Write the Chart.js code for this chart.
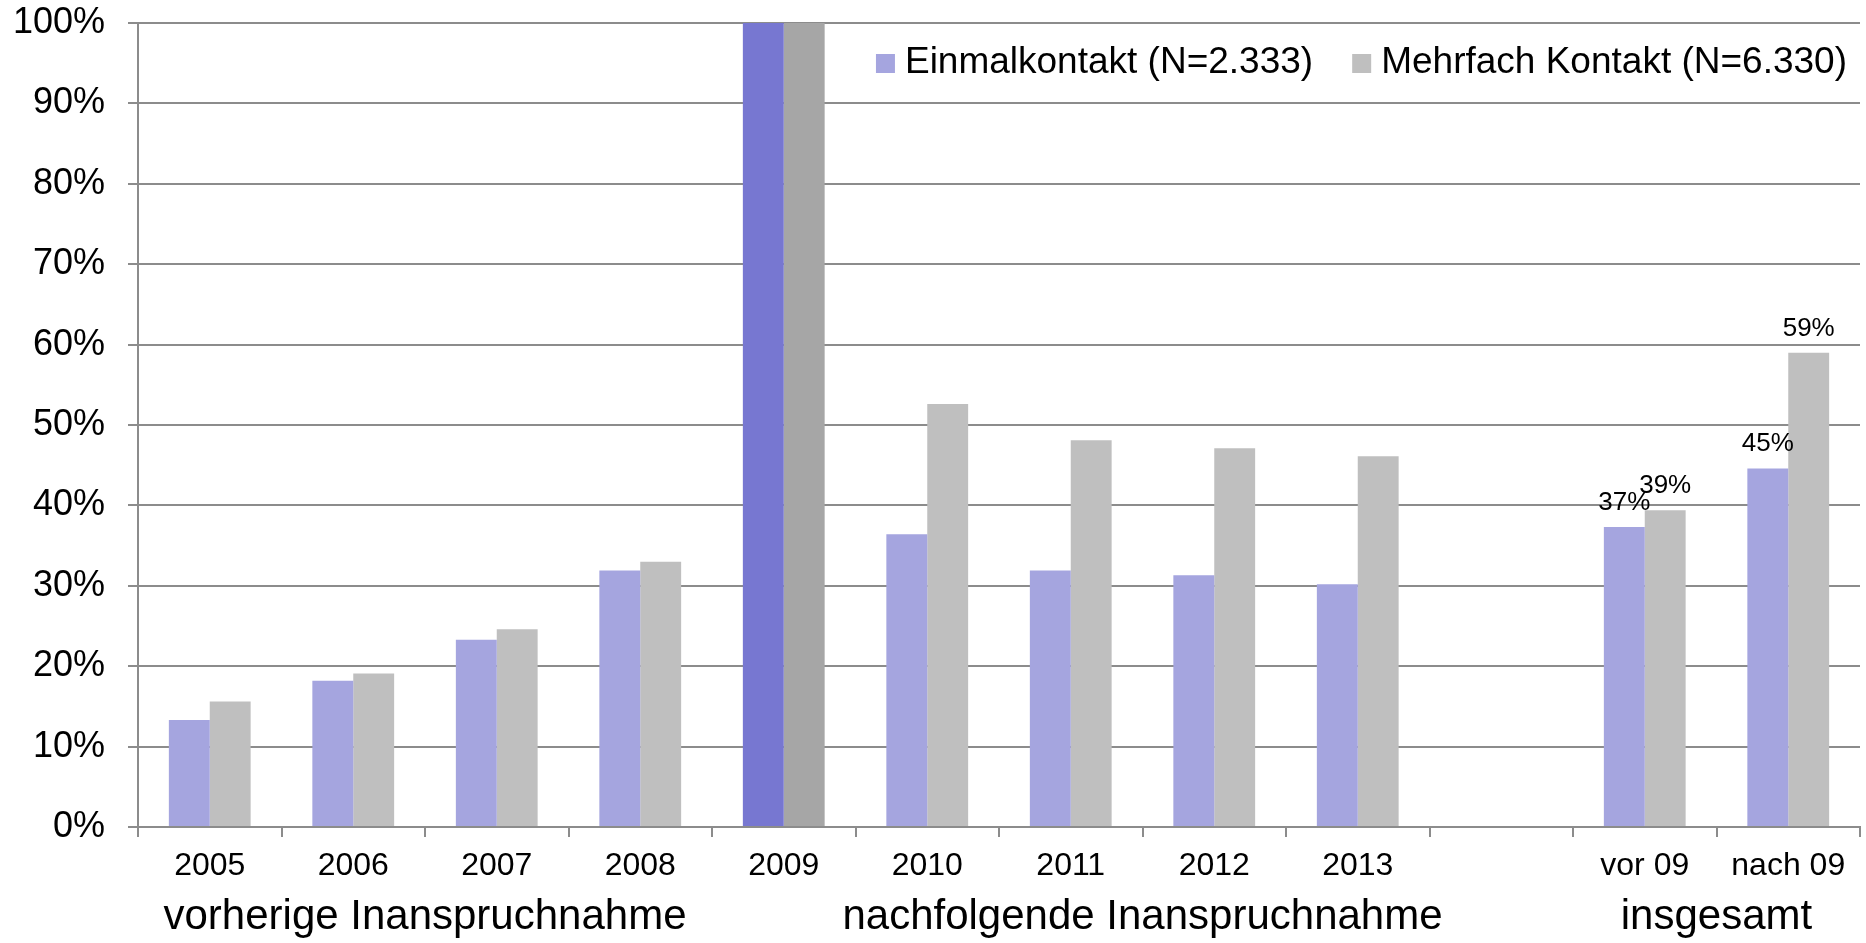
<!DOCTYPE html>
<html lang="de">
<head>
    <meta charset="UTF-8">
    <title>Inanspruchnahme vor und nach 2009</title>
    <script src="https://cdn.jsdelivr.net/npm/chart.js"></script>
    <style>
        html, body {
            margin: 0;
            padding: 0;
            background: #ffffff;
        }
        #wrap {
            width: 1866px;
            height: 943px;
            position: relative;
        }
    </style>
</head>
<body>
    <div id="wrap"><canvas id="chart"></canvas></div>

    <script>
        // data (percent)
        const categories = ['2005', '2006', '2007', '2008', '2009', '2010', '2011', '2012', '2013', '', 'vor 09', 'nach 09'];
        const einmalValues = [13.3, 18.2, 23.3, 31.9, 100, 36.4, 31.9, 31.3, 30.2, null, 37.3, 44.6];
        const mehrfachValues = [15.6, 19.1, 24.6, 33.0, 100, 52.6, 48.1, 47.1, 46.1, null, 39.4, 59.0];
        const seriesNames = ['Einmalkontakt (N=2.333)', 'Mehrfach Kontakt (N=6.330)'];
        const yTicks = [0, 10, 20, 30, 40, 50, 60, 70, 80, 90, 100];
        const groupLabels = ['vorherige Inanspruchnahme', 'nachfolgende Inanspruchnahme', 'insgesamt'];
        const groupFirst = ['2005', '2010', 'vor 09'];
        const groupLast = ['2008', '2013', 'nach 09'];
        const highlightedCategory = '2009';
        const labelledCategories = ['vor 09', 'nach 09'];

        const FONT = '"Liberation Sans", Arial, sans-serif';
        const AXIS_GREY = '#8c8c8c';
        const colors = {
            einmal: '#a5a5df',
            einmalDark: '#7777d1',
            mehrfach: '#bfbfbf',
            mehrfachDark: '#a6a6a6'
        };

        function barColors(normal, dark) {
            return categories.map(c => c === highlightedCategory ? dark : normal);
        }

        // value labels above the "insgesamt" bars
        const valueLabels = {
            id: 'valueLabels',
            afterDatasetsDraw(chart) {
                const ctx = chart.ctx;
                ctx.save();
                ctx.font = '26px ' + FONT;
                ctx.fillStyle = '#000000';
                ctx.textAlign = 'center';
                ctx.textBaseline = 'alphabetic';
                chart.data.datasets.forEach((ds, di) => {
                    chart.getDatasetMeta(di).data.forEach((bar, i) => {
                        if (!labelledCategories.includes(categories[i]) || ds.data[i] == null) return;
                        ctx.fillText(Math.round(ds.data[i]) + '%', bar.x, bar.y - 17);
                    });
                });
                ctx.restore();
            }
        };

        // legend sits inside the plot, top right
        const insideLegend = {
            id: 'insideLegend',
            afterDraw(chart) {
                const ctx = chart.ctx;
                const area = chart.chartArea;
                const box = 19, gap = 10, itemGap = 39;
                ctx.save();
                ctx.font = '37px ' + FONT;
                const items = chart.data.datasets.map(ds => ({
                    text: ds.label,
                    color: ds.legendColor,
                    width: ctx.measureText(ds.label).width
                }));
                let total = items.reduce((s, it) => s + box + gap + it.width, 0) + itemGap * (items.length - 1);
                let x = area.right - 13 - total;
                const baseline = area.top + 50;
                ctx.textBaseline = 'alphabetic';
                ctx.textAlign = 'left';
                items.forEach(it => {
                    ctx.fillStyle = it.color;
                    ctx.fillRect(x, baseline - 19, box, box);
                    ctx.fillStyle = '#000000';
                    ctx.fillText(it.text, x + box + gap, baseline);
                    x += box + gap + it.width + itemGap;
                });
                ctx.restore();
            }
        };

        new Chart(document.getElementById('chart'), {
            type: 'bar',
            data: {
                labels: categories,
                datasets: [
                    {
                        label: seriesNames[0],
                        data: einmalValues,
                        backgroundColor: barColors(colors.einmal, colors.einmalDark),
                        legendColor: colors.einmal,
                        borderWidth: 0
                    },
                    {
                        label: seriesNames[1],
                        data: mehrfachValues,
                        backgroundColor: barColors(colors.mehrfach, colors.mehrfachDark),
                        legendColor: colors.mehrfach,
                        borderWidth: 0
                    }
                ]
            },
            options: {
                responsive: true,
                maintainAspectRatio: false,
                animation: false,
                categoryPercentage: 0.57,
                barPercentage: 1.0,
                layout: {
                    padding: { top: 0, left: 13, right: 6, bottom: 0 }
                },
                plugins: {
                    legend: { display: false },
                    tooltip: { enabled: false }
                },
                scales: {
                    y: {
                        min: 0,
                        max: 100,
                        afterBuildTicks: scale => {
                            scale.ticks = yTicks.map(v => ({ value: v }));
                        },
                        afterFit: scale => {
                            scale.width = 125;
                            scale.paddingTop = 23;
                            scale.paddingBottom = 23;
                        },
                        ticks: {
                            callback: v => v + '%',
                            color: '#000000',
                            padding: 23,
                            font: { family: FONT, size: 36 }
                        },
                        grid: {
                            color: AXIS_GREY,
                            lineWidth: 2,
                            tickLength: 10
                        },
                        border: { color: AXIS_GREY, width: 2 }
                    },
                    x: {
                        afterFit: scale => {
                            scale.height = 56;
                        },
                        ticks: {
                            color: '#000000',
                            padding: 10,
                            autoSkip: false,
                            maxRotation: 0,
                            font: { family: FONT, size: 32 }
                        },
                        grid: {
                            drawOnChartArea: false,
                            drawTicks: true,
                            tickLength: 10,
                            color: AXIS_GREY,
                            lineWidth: 2,
                            offset: true
                        },
                        border: { color: AXIS_GREY, width: 2 }
                    },
                    groups: {
                        type: 'linear',
                        position: 'bottom',
                        offset: false,
                        min: -0.5,
                        max: categories.length - 0.5,
                        afterBuildTicks: scale => {
                            scale.ticks = groupLabels.map((g, i) => ({
                                value: (categories.indexOf(groupFirst[i]) + categories.indexOf(groupLast[i])) / 2
                            }));
                        },
                        afterFit: scale => {
                            scale.height = 60;
                        },
                        ticks: {
                            callback: (v, i) => groupLabels[i],
                            color: '#000000',
                            padding: 9,
                            autoSkip: false,
                            maxRotation: 0,
                            font: { family: FONT, size: 42 }
                        },
                        grid: { display: false, drawTicks: false, offset: false },
                        border: { display: false }
                    }
                }
            },
            plugins: [valueLabels, insideLegend]
        });
    </script>
</body>
</html>
